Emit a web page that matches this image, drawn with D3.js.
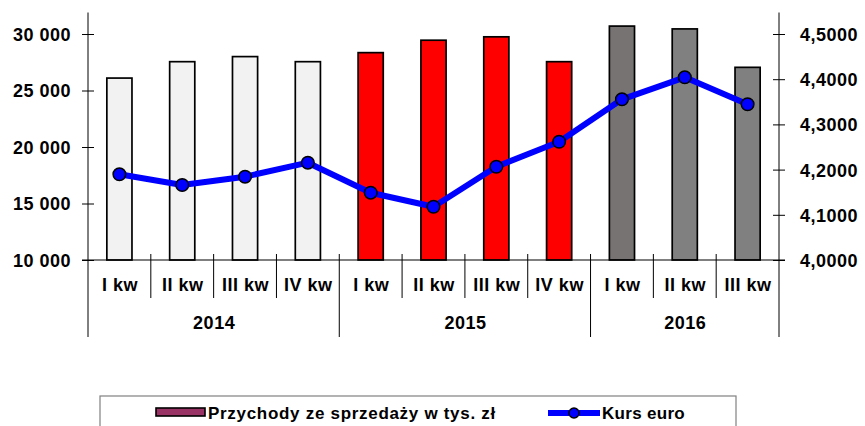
<!DOCTYPE html>
<html>
<head>
<meta charset="utf-8">
<script src="https://cdn.jsdelivr.net/npm/d3@7"></script>
<style>
  html, body { margin: 0; padding: 0; background: #fff; }
  svg { display: block; }
  text { font-family: "Liberation Sans", Arial, sans-serif; font-weight: bold; fill: #000; }
</style>
</head>
<body>
<svg id="chart" width="865" height="426"></svg>
<script>
// ---- data ----
const quarters = ["I kw", "II kw", "III kw", "IV kw", "I kw", "II kw", "III kw", "IV kw", "I kw", "II kw", "III kw"];
const years = ["2014", "2014", "2014", "2014", "2015", "2015", "2015", "2015", "2016", "2016", "2016"];
const yearLabels = ["2014", "2015", "2016"];
const revenue = [26100, 27550, 28000, 27550, 28350, 29450, 29750, 27550, 30700, 30450, 27050];
const euro = [4.1896, 4.1659, 4.1843, 4.2153, 4.1489, 4.1179, 4.2064, 4.2617, 4.3555, 4.4042, 4.3445];
const leftTicks = [10000, 15000, 20000, 25000, 30000];
const rightTicks = [4.0, 4.1, 4.2, 4.3, 4.4, 4.5];
const seriesNames = ["Przychody ze sprzedaży w tys. zł", "Kurs euro"];

// ---- styles ----
const barFill = ["#f2f2f2", "#f2f2f2", "#f2f2f2", "#f2f2f2", "#ff0000", "#ff0000", "#ff0000", "#ff0000", "#777373", "#808080", "#808080"];
const axisFont = "18px", axisSpacing = "0.5px";

const svg = d3.select("#chart");
const plotLeft = 88, plotRight = 779, plotTop = 12.5, base = 260;

const x = d3.scaleBand().domain(d3.range(quarters.length)).range([plotLeft, plotRight]).padding(0);
const yL = d3.scaleLinear().domain([10000, 30000]).range([base, 34]);
const yR = d3.scaleLinear().domain([4.0, 4.5]).range([base, 34]);

const fmtL = d => d3.format(",")(d).replace(/,/g, "\u00a0");
const fmtR = d => d.toFixed(4).replace(".", ",");

// bars
const bw = x.bandwidth() * 0.4;
svg.append("g").selectAll("rect").data(revenue).join("rect")
  .attr("x", (d, i) => x(i) + x.bandwidth() / 2 - bw / 2)
  .attr("y", d => yL(d))
  .attr("width", bw)
  .attr("height", d => base - yL(d))
  .attr("fill", (d, i) => barFill[i])
  .attr("stroke", "#000")
  .attr("stroke-width", 1.7);

// left axis
const gL = svg.append("g").attr("transform", `translate(${plotLeft},0)`)
  .call(d3.axisLeft(yL).tickValues(leftTicks).tickFormat(fmtL).tickSize(6).tickPadding(11));
gL.select(".domain").remove();
gL.selectAll(".tick line").attr("x1", 6).attr("stroke", "#000");
gL.selectAll(".tick text").style("font-size", axisFont).style("letter-spacing", axisSpacing).attr("dy", "0.36em");
svg.append("line").attr("x1", plotLeft).attr("x2", plotLeft).attr("y1", plotTop).attr("y2", 337).attr("stroke", "#000").attr("stroke-width", 1);

// right axis
const gR = svg.append("g").attr("transform", `translate(${plotRight},0)`)
  .call(d3.axisRight(yR).tickValues(rightTicks).tickFormat(fmtR).tickSize(6).tickPadding(15));
gR.select(".domain").remove();
gR.selectAll(".tick line").attr("x1", -6).attr("stroke", "#000");
gR.selectAll(".tick text").style("font-size", axisFont).style("letter-spacing", axisSpacing).attr("dy", "0.36em");
svg.append("line").attr("x1", plotRight).attr("x2", plotRight).attr("y1", plotTop).attr("y2", 337).attr("stroke", "#000").attr("stroke-width", 1);

// x baseline
svg.append("line").attr("x1", 82).attr("x2", 785).attr("y1", base).attr("y2", base).attr("stroke", "#000").attr("stroke-width", 1.2);

// category separators
const g = svg.append("g");
d3.range(1, quarters.length).forEach(i => {
  const isYear = years[i] !== years[i - 1];
  g.append("line").attr("x1", x(i)).attr("x2", x(i))
    .attr("y1", 254).attr("y2", isYear ? 337 : 298)
    .attr("stroke", "#000").attr("stroke-width", 1);
});

// quarter labels
g.selectAll("text.q").data(quarters).join("text").attr("class", "q")
  .attr("x", (d, i) => x(i) + x.bandwidth() / 2 + 0.5)
  .attr("y", 285).attr("dy", "0.36em")
  .attr("text-anchor", "middle")
  .style("font-size", axisFont).style("letter-spacing", axisSpacing)
  .text(d => d);

// year labels
yearLabels.forEach(yr => {
  const idx = years.map((v, i) => v === yr ? i : -1).filter(i => i >= 0);
  const cx = (x(idx[0]) + x(idx[idx.length - 1]) + x.bandwidth()) / 2;
  g.append("text").attr("x", cx + 0.5).attr("y", 323).attr("dy", "0.36em")
    .attr("text-anchor", "middle")
    .style("font-size", axisFont).style("letter-spacing", axisSpacing)
    .text(yr);
});

// line
const line = d3.line().x((d, i) => x(i) + x.bandwidth() / 2).y(d => yR(d));
svg.append("path").datum(euro).attr("d", line)
  .attr("fill", "none").attr("stroke", "#0000ff").attr("stroke-width", 6).attr("stroke-linejoin", "round");
svg.append("g").selectAll("circle").data(euro).join("circle")
  .attr("cx", (d, i) => x(i) + x.bandwidth() / 2)
  .attr("cy", d => yR(d))
  .attr("r", 6.3)
  .attr("fill", "#0000ff").attr("stroke", "#000").attr("stroke-width", 1.5);

// legend
const lg = svg.append("g");
lg.append("rect").attr("x", 100).attr("y", 396).attr("width", 636).attr("height", 40)
  .attr("fill", "#fff").attr("stroke", "#808080").attr("stroke-width", 1.2);
lg.append("rect").attr("x", 156).attr("y", 408).attr("width", 49).attr("height", 8)
  .attr("fill", "#993366").attr("stroke", "#000").attr("stroke-width", 1.6);
lg.append("text").attr("x", 208).attr("y", 412.5).attr("dy", "0.36em")
  .style("font-size", "17px").style("letter-spacing", "0.7px").text(seriesNames[0]);
lg.append("line").attr("x1", 548).attr("x2", 600).attr("y1", 413).attr("y2", 413)
  .attr("stroke", "#0000ff").attr("stroke-width", 6);
lg.append("circle").attr("cx", 574).attr("cy", 413).attr("r", 5)
  .attr("fill", "#0000ff").attr("stroke", "#000").attr("stroke-width", 1.5);
lg.append("text").attr("x", 602).attr("y", 412.5).attr("dy", "0.36em")
  .style("font-size", "17px").style("letter-spacing", "0.3px").text(seriesNames[1]);
</script>
</body>
</html>
